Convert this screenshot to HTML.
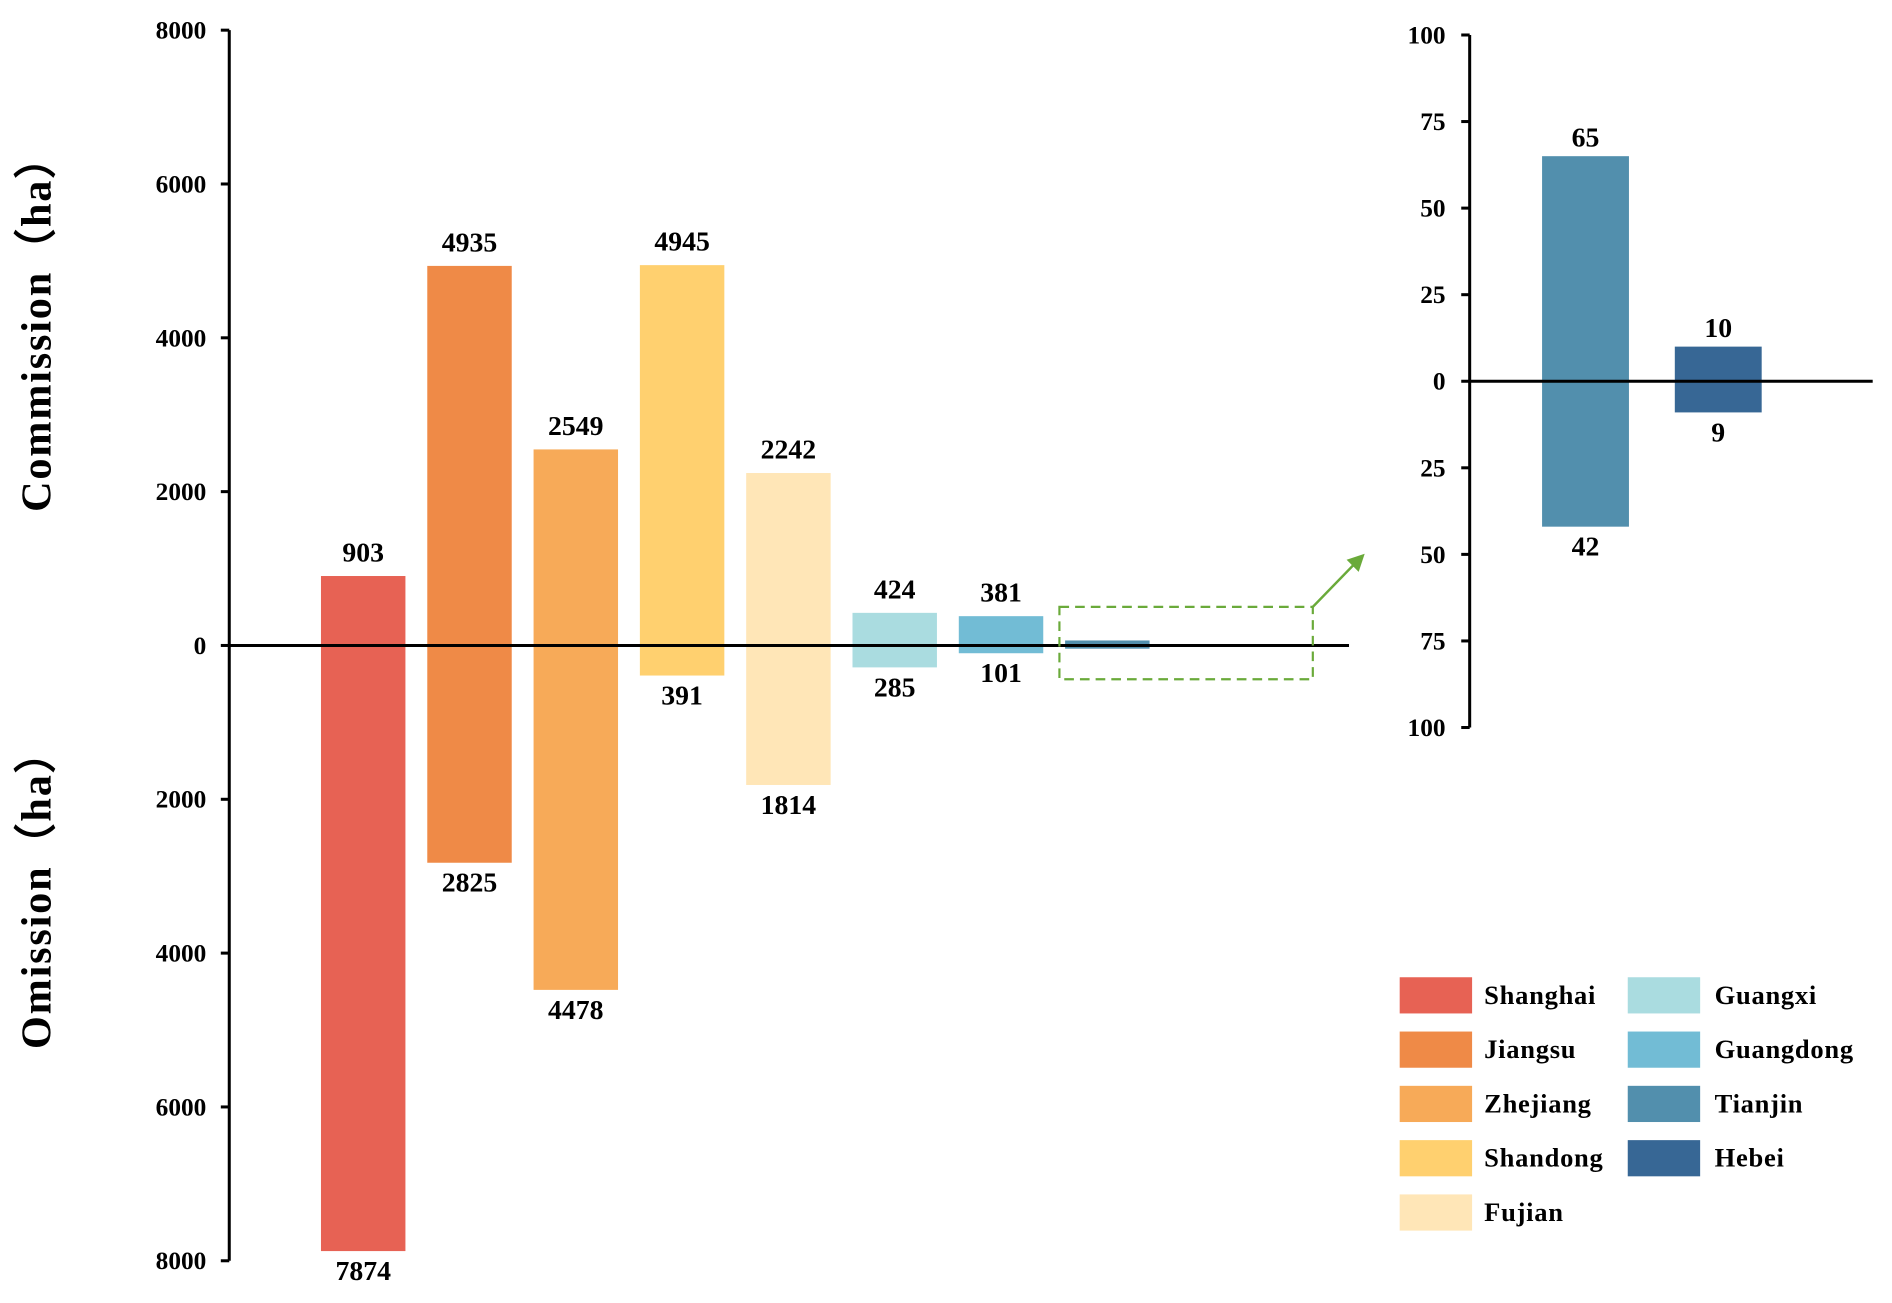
<!DOCTYPE html>
<html><head><meta charset="utf-8"><style>
html,body{margin:0;padding:0;background:#fff;}
svg{display:block;}
text{font-family:"Liberation Serif",serif;font-weight:bold;fill:#000;}
</style></head><body>
<svg id="chart" width="1892" height="1303" viewBox="0 0 1568 1080" preserveAspectRatio="none" xmlns="http://www.w3.org/2000/svg"></svg>
<script>
const categories = ["Shanghai","Jiangsu","Zhejiang","Shandong","Fujian","Guangxi","Guangdong","Tianjin","Hebei"];
const commission = [903,4935,2549,4945,2242,424,381,65,10];
const omission = [7874,2825,4478,391,1814,285,101,42,9];
const colors = ["#e76254","#ef8a47","#f7aa58","#ffd06f","#ffe6b7","#aadce0","#72bcd5","#528fad","#376795"];
const mainTicks = [8000,6000,4000,2000,0,-2000,-4000,-6000,-8000];
const insetTicks = [100,75,50,25,0,-25,-50,-75,-100];
const insetCats = ["Tianjin","Hebei"];

const svg = document.getElementById('chart');
const NS = 'http://www.w3.org/2000/svg';
function mk(tag, attrs, parent){const e=document.createElementNS(NS,tag);for(const k in attrs)e.setAttribute(k,attrs[k]);(parent||svg).appendChild(e);return e;}

const y0 = 535, ys = 510/8000;
const Y = v => y0 - v*ys;
const X = i => 301 + i*88.1;
const ax = mk('line',{x1:190,y1:Y(8000),x2:190,y2:Y(-8000),stroke:'#000','stroke-width':2.5});


mainTicks.forEach(t=>{
  const l=mk('line',{x1:183,y1:Y(t),x2:190,y2:Y(t),stroke:'#000','stroke-width':2.5});
  
  
  const tx=mk('text',{x:171,y:Y(t)+7,'text-anchor':'end','font-size':21});
  tx.textContent=Math.abs(t);
  
  
});
for(let i=0;i<categories.length;i++){
  const xi = i<8 ? X(i) : X(7);
  const r=mk('rect',{x:xi-35,y:Y(commission[i]),width:70,height:(commission[i]+omission[i])*ys,fill:colors[i]});
  
  
  if(i<7){
    const a=mk('text',{x:xi,y:Y(commission[i])-12,'text-anchor':'middle','font-size':23});
    a.textContent=commission[i];
    
    
    const b=mk('text',{x:xi,y:Y(-omission[i])+24,'text-anchor':'middle','font-size':23});
    b.textContent=omission[i];
    
    
  }
}
const zl=mk('line',{x1:190,y1:y0,x2:1118,y2:y0,stroke:'#000','stroke-width':2.5});


const zr=mk('rect',{x:878,y:503,width:210,height:60,fill:'none',stroke:'#6aaa3a','stroke-width':1.8,'stroke-dasharray':'8,5'});


const ar=mk('line',{x1:1088,y1:503,x2:1122,y2:468,stroke:'#6aaa3a','stroke-width':2});


const ah=mk('polygon',{points:'1131,459 1126,474 1116,464',fill:'#6aaa3a'});



const t1=mk('text',{x:0,y:0,'font-size':35,'letter-spacing':1.5,'text-anchor':'middle',transform:'translate(42,268) rotate(-90)'});
t1.textContent='Commission（ha）';


const t2=mk('text',{x:0,y:0,'font-size':35,'letter-spacing':1.5,'text-anchor':'middle',transform:'translate(42,737) rotate(-90)'});
t2.textContent='Omission（ha）';



const iy0=316, iys=287/100;
const IY = v => iy0 - v*iys;
const IX = i => 1314 + i*110;
const iax=mk('line',{x1:1218,y1:IY(100),x2:1218,y2:IY(-100),stroke:'#000','stroke-width':2.5});


insetTicks.forEach(t=>{
  const l=mk('line',{x1:1211,y1:IY(t),x2:1218,y2:IY(t),stroke:'#000','stroke-width':2.5});
  
  
  const tx=mk('text',{x:1198,y:IY(t)+7,'text-anchor':'end','font-size':21});
  tx.textContent=Math.abs(t);
  
  
});
insetCats.forEach((c,j)=>{
  const i=categories.indexOf(c);
  const r=mk('rect',{x:IX(j)-36,y:IY(commission[i]),width:72,height:(commission[i]+omission[i])*iys,fill:colors[i]});
  
  
  const a=mk('text',{x:IX(j),y:IY(commission[i])-8,'text-anchor':'middle','font-size':23});
  a.textContent=commission[i];
  
  
  const b=mk('text',{x:IX(j),y:IY(-omission[i])+24,'text-anchor':'middle','font-size':23});
  b.textContent=omission[i];
  
  
});
const izl=mk('line',{x1:1218,y1:iy0,x2:1552,y2:iy0,stroke:'#000','stroke-width':2.5});



categories.forEach((c,i)=>{
  const col = i<5?0:1, row = i<5?i:i-5;
  const sx = col?1349:1160, cy = 825 + row*45;
  const g=mk('g',{});
  
  
  mk('rect',{x:sx,y:cy-15,width:60,height:30,fill:colors[i]},g);
  const tx=mk('text',{x:sx+(col?72:70),y:cy+7,'font-size':22,'letter-spacing':0.6},g);
  tx.textContent=c;
});
</script>
</body></html>
